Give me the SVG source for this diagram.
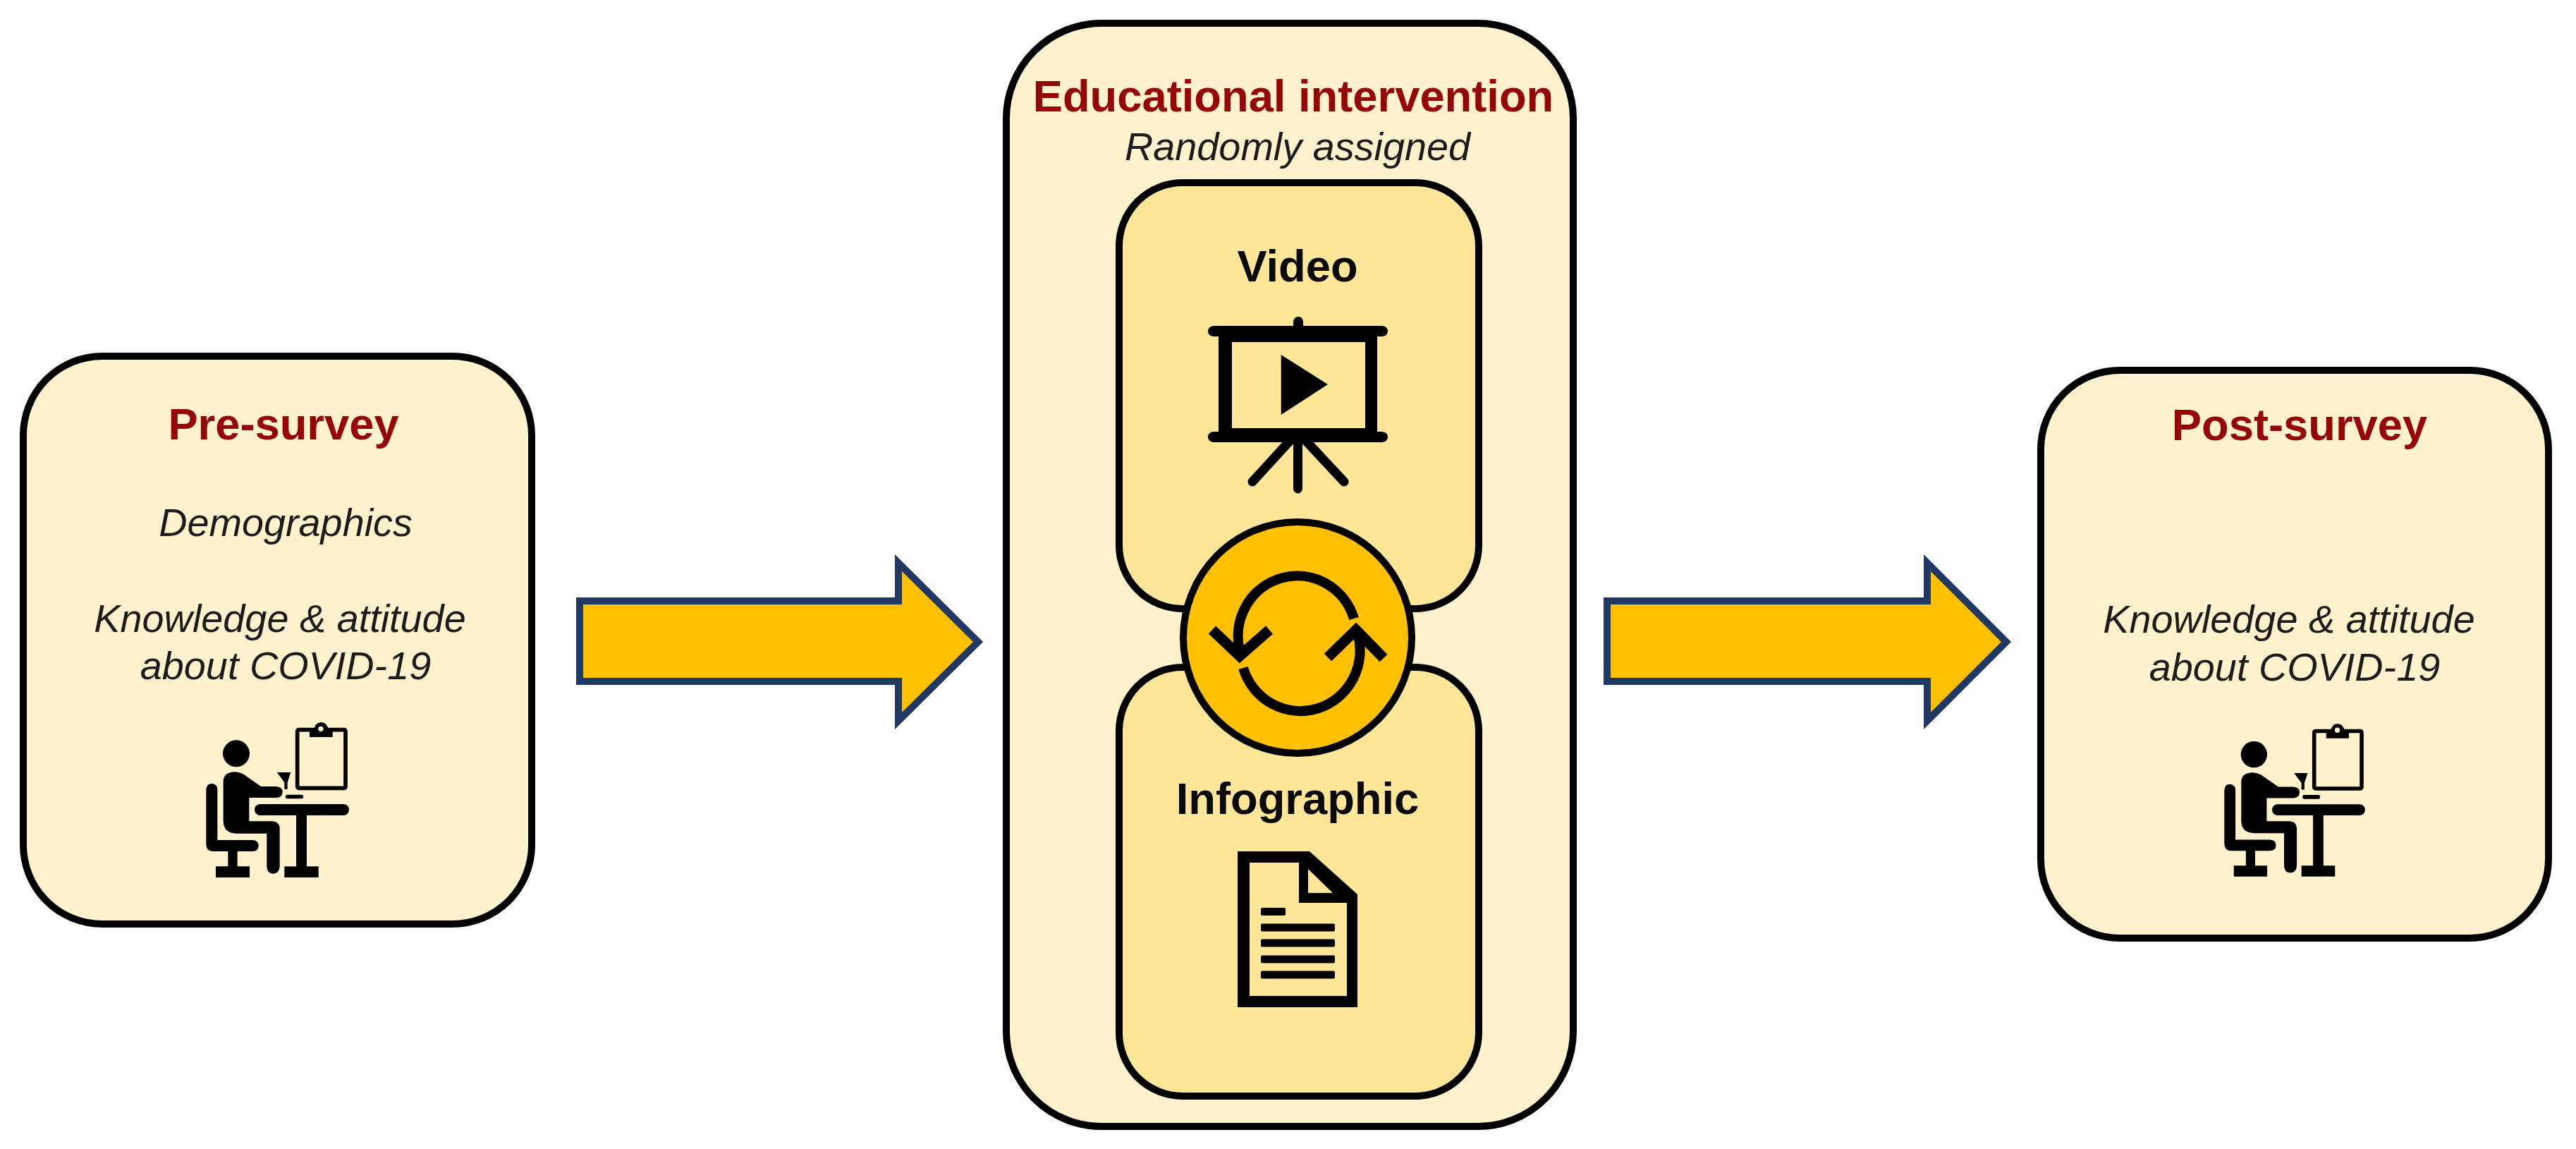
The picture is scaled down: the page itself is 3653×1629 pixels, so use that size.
<svg xmlns="http://www.w3.org/2000/svg" xmlns:xlink="http://www.w3.org/1999/xlink" width="3653" height="1629" viewBox="0 0 3653 1629">
<style>
.outer{fill:#FFF2CC;stroke:#000;stroke-width:10}
.inner{fill:#FFE699;stroke:#000;stroke-width:10}
.hub{fill:#FFC000;stroke:#000;stroke-width:10}
.arrow{fill:#FFC000;stroke:#1F3864;stroke-width:10}
text{font-family:"Liberation Sans",Arial,sans-serif;text-anchor:middle}
.h{font-weight:700;font-size:63.300px;fill:#960606}
.b{font-weight:700;font-size:63.300px;fill:#0a0a0a}
.i{font-style:italic;font-size:55.800px;fill:#1c1c1c}
.k{fill:#000}
.ln{fill:none;stroke:#000;stroke-linecap:round}
.ar{fill:none;stroke:#000;stroke-width:14}
.hd{fill:none;stroke:#000;stroke-width:15}
</style>
<defs>
<g id="person">
<g transform="translate(240 1000) scale(.33333)">
<circle class="k" cx="285" cy="205" r="57"/>
<path class="k" d="M230 320Q232 285 280 283Q310 285 330 303L390 345H455Q482 347 482 368Q482 392 455 393H340V493H440Q470 495 470 525V685Q468 716 441 716Q415 714 415 685V545H285Q232 543 230 495Z"/>
<path class="k" d="M157 358Q159 333 181 333Q205 335 205 358V573H355Q380 575 380 597Q380 620 355 621H290V685H342V732H198V685H250V621H185Q157 620 157 590Z"/>
<rect class="k" x="363" y="420" width="402" height="48" rx="24"/>
<rect class="k" x="540" y="460" width="45" height="230"/>
<rect class="k" x="490" y="685" width="145" height="47"/>
<rect x="545" y="104" width="205" height="248" rx="6" fill="none" stroke="#000" stroke-width="17"/>
<path class="k" d="M597 110H615Q618 74 645 72Q675 74 678 110H695V135H597Z"/>
<circle cx="645" cy="100" r="11" fill="#FFF2CC"/>
<path class="k" d="M458 285H517L503 328V357H490V328Z"/>
<rect class="k" x="495" y="380" width="75" height="17" rx="6"/>
</g>
</g>
</defs>

<g id="connectors">
<polygon id="arrow-1" class="arrow" points="822,852 1274,852 1274,798 1387,910 1274,1022 1274,966 822,966"/>
<polygon id="arrow-2" class="arrow" points="2279,852 2733,852 2733,798 2845,910 2733,1022 2733,966 2279,966"/>
</g>

<g id="pre-survey">
<rect class="outer" x="33" y="505" width="721" height="805" rx="112"/>
<text class="h" x="402" y="623">Pre-survey</text>
<text class="i" x="405" y="760">Demographics</text>
<text class="i" x="397" y="896">Knowledge &amp; attitude</text>
<text class="i" x="405" y="963">about COVID-19</text>
<use xlink:href="#person" href="#person"/>
</g>

<g id="educational-intervention">
<rect class="outer" x="1427" y="33" width="804" height="1564" rx="135"/>
<text class="h" x="1834" y="158">Educational intervention</text>
<text class="i" x="1840" y="227">Randomly assigned</text>
</g>

<g id="video">
<rect class="inner" x="1587" y="259" width="510" height="604" rx="90"/>
<text class="b" x="1840" y="399">Video</text>
<path class="k" fill-rule="evenodd" d="M1834 462V456Q1835 449 1841 449Q1847 449 1848 456V462H1960Q1968 463 1968 469.500Q1968 476 1960 477H1953V612H1960Q1968 613 1968 619.500Q1968 626 1960 627H1721Q1713 626 1713 619.500Q1713 613 1721 612H1728V477H1721Q1713 476 1713 469.500Q1713 463 1721 462ZM1747 485V607H1936V485Z"/>
<polygon class="k" points="1816.700,503 1883,545 1816.700,588"/>
<path class="ln" stroke-width="13" d="M1840.500 622V693M1830 624L1776 683M1851 624L1906 683"/>
</g>

<g id="infographic">
<rect class="inner" x="1587" y="946" width="510" height="608" rx="90"/>
<text class="b" x="1840" y="1154">Infographic</text>
<path class="k" fill-rule="evenodd" d="M1755 1207H1857L1925 1268V1428H1755ZM1772 1223V1412H1910V1280H1842V1223ZM1855 1232V1266H1890Z"/>
<rect class="k" x="1788" y="1287" width="35" height="11" rx="2"/>
<rect class="k" x="1788" y="1309.500" width="105" height="11" rx="2"/>
<rect class="k" x="1788" y="1331.500" width="105" height="11" rx="2"/>
<rect class="k" x="1788" y="1354.500" width="105" height="11" rx="2"/>
<rect class="k" x="1788" y="1376.500" width="105" height="11" rx="2"/>
</g>

<g id="exchange">
<ellipse class="hub" cx="1840" cy="904" rx="162" ry="164"/>
<path class="ar" d="M1920 877A84 85.500 0 0 0 1758 922"/>
<path class="ar" d="M1763 947A84 85.500 0 0 0 1925 897"/>
<path class="hd" d="M1719 893L1758 930L1800 893"/>
<path class="hd" d="M1883 932L1923 893L1962 933"/>
</g>

<g id="post-survey">
<rect class="outer" x="2894" y="525" width="720" height="805" rx="112"/>
<text class="h" x="3261" y="624">Post-survey</text>
<text class="i" x="3246" y="897">Knowledge &amp; attitude</text>
<text class="i" x="3254" y="965">about COVID-19</text>
<use xlink:href="#person" href="#person" transform="translate(3154 1025) scale(.985) translate(-292 -1023)"/>
</g>
</svg>
